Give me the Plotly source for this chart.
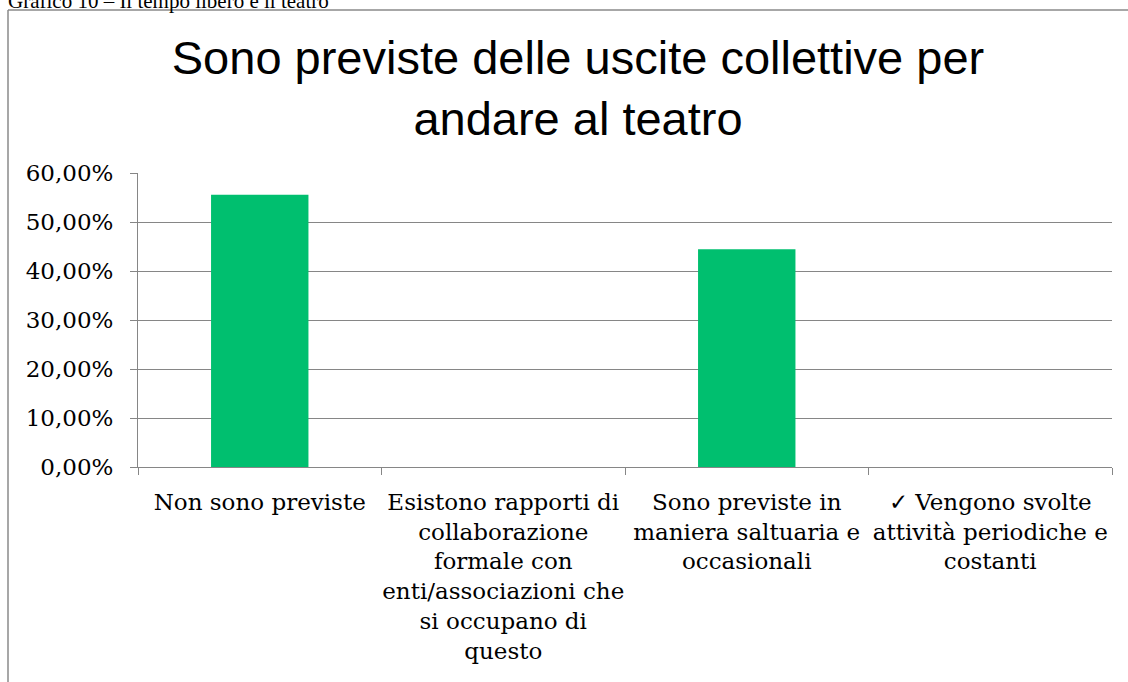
import plotly.graph_objects as go

categories = [
    "Non sono previste",
    "Esistono rapporti di<br>collaborazione<br>formale con<br>enti/associazioni che<br>si occupano di<br>questo",
    "Sono previste in<br>maniera saltuaria e<br>occasionali",
    "✓ Vengono svolte<br>attività periodiche e<br>costanti",
]
values = [0.5556, 0.0, 0.4444, 0.0]
y_ticks = [0, 0.1, 0.2, 0.3, 0.4, 0.5, 0.6]

W, H = 1128, 682
L, R, T, B = 138, 16, 173, 215
pw, ph = W - L - R, H - T - B


def px_x(p):
    return (p - L) / pw


def px_y(p):
    return (H - B - p) / ph


fig = go.Figure()
fig.add_trace(go.Bar(x=categories, y=values, marker=dict(color="#00BF6F", line=dict(width=0)),
                     width=0.4, hoverinfo="skip"))

grid_col = "#868686"
fig.update_layout(
    width=W, height=H,
    margin=dict(l=L, r=R, t=T, b=B, autoexpand=False),
    paper_bgcolor="white", plot_bgcolor="white",
    separators=",.",
    showlegend=False,
    title=dict(
        text="Sono previste delle uscite collettive per<br>andare al teatro",
        font=dict(family="Liberation Sans, Arial", size=47, color="black"),
        x=578 / W, xanchor="center", xref="container",
        y=1 - 74 / H, yanchor="middle", yref="container",
        automargin=False,
    ),
    xaxis=dict(
        showline=True, linecolor=grid_col, linewidth=1,
        ticks="outside", tickson="boundaries", ticklen=7, tickcolor=grid_col,
        tickfont=dict(family="DejaVu Serif", size=23, color="black"),
        ticklabelstandoff=14, tickangle=0, automargin=False,
        showgrid=False,
    ),
    yaxis=dict(
        range=[0, 0.6], tickvals=y_ticks, tickformat=".2%",
        showline=True, linecolor=grid_col, linewidth=1,
        ticks="outside", ticklen=7, tickcolor=grid_col,
        gridcolor=grid_col, gridwidth=1,
        tickfont=dict(family="DejaVu Serif", size=23, color="black"),
        ticklabelstandoff=12, automargin=False,
        zeroline=False,
    ),
    shapes=[
        dict(type="line", xref="paper", yref="paper",
             x0=px_x(8), x1=px_x(8), y0=px_y(10), y1=px_y(700),
             line=dict(color="#8a8a8a", width=1.5)),
        dict(type="line", xref="paper", yref="paper",
             x0=px_x(8), x1=px_x(1140), y0=px_y(10), y1=px_y(10),
             line=dict(color="#8a8a8a", width=1.5)),
    ],
    annotations=[
        dict(text="Grafico 10 – Il tempo libero e il teatro", xref="paper", yref="paper",
             x=px_x(6), y=px_y(0.5), xanchor="left", yanchor="middle", showarrow=False,
             font=dict(family="Liberation Serif", size=21, color="black")),
    ],
)

fig.write_html("out.html")
